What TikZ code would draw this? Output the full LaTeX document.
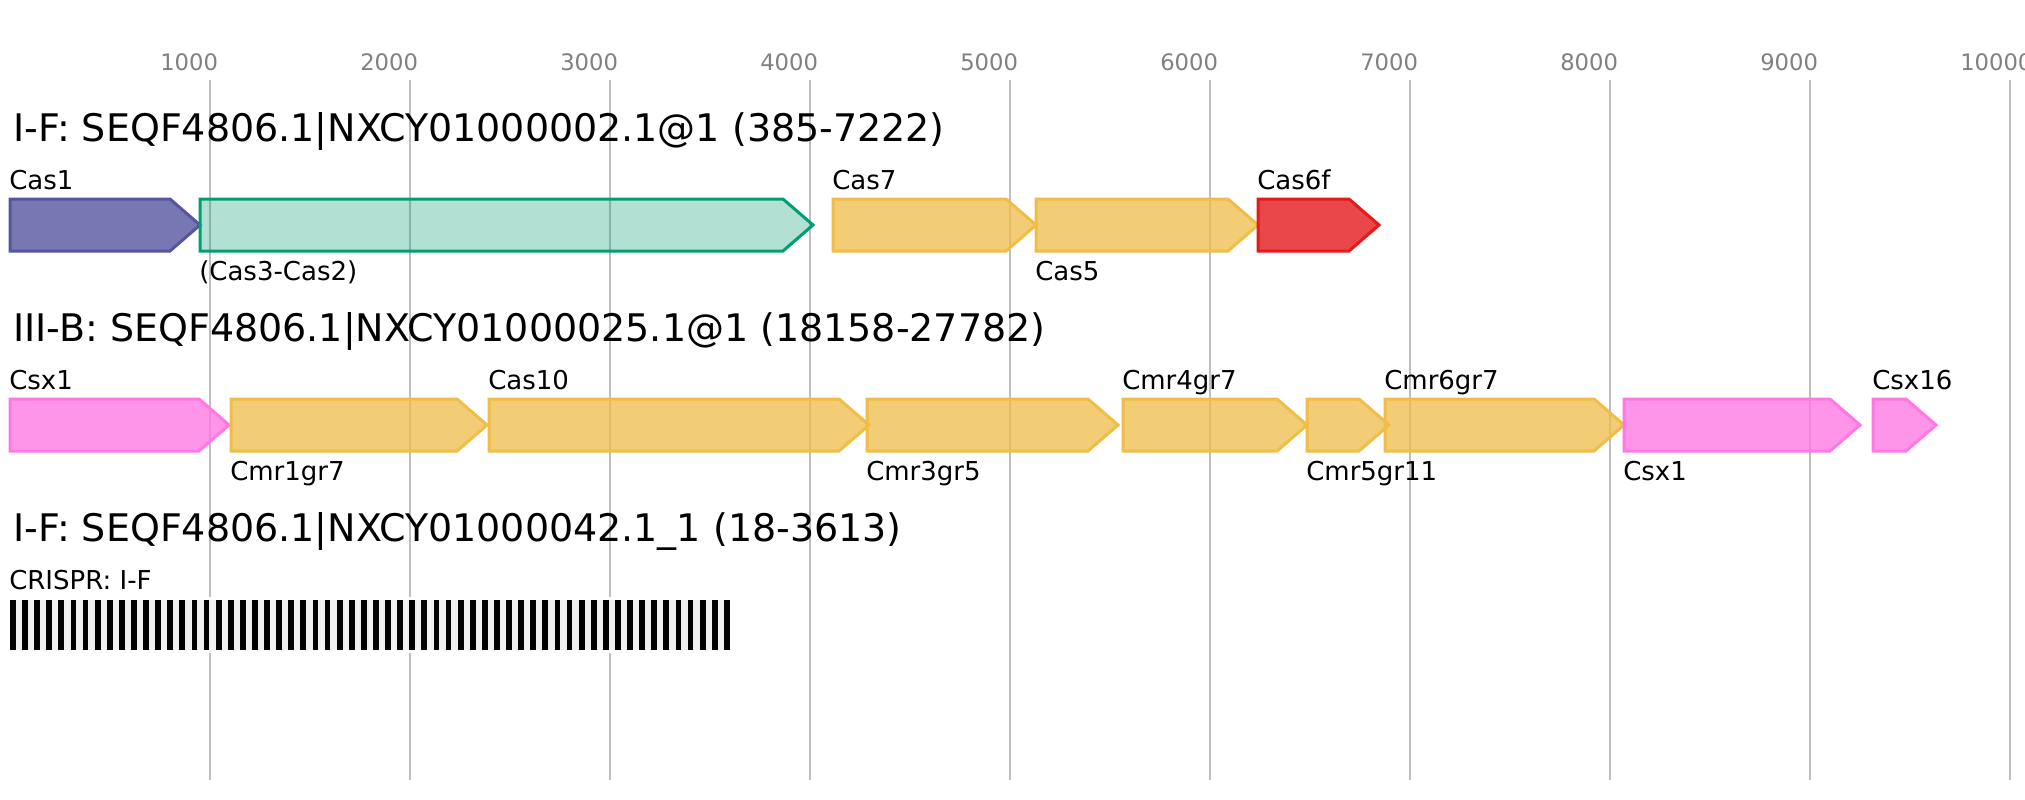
\documentclass[tikz,border=0pt]{standalone}
\usepackage{fontspec}
\setmainfont{DejaVu Sans}
\definecolor{gridc}{RGB}{190,190,190}
\definecolor{purp}{RGB}{85,85,160}
\definecolor{tealc}{RGB}{0,158,115}
\definecolor{yell}{RGB}{239,189,72}
\definecolor{redc}{RGB}{228,26,28}
\definecolor{pinkc}{RGB}{255,120,228}
\definecolor{spc}{RGB}{240,240,240}
\definecolor{axc}{RGB}{128,128,128}
\tikzset{
  genebase/.style={line width=2.25pt, line join=miter},
  gpurp/.style={genebase, draw=purp, fill=purp, fill opacity=0.8},
  gteal/.style={genebase, draw=tealc, fill=tealc, fill opacity=0.3},
  gyell/.style={genebase, draw=yell, fill=yell, fill opacity=0.75},
  gred/.style={genebase, draw=redc, fill=redc, fill opacity=0.8},
  gpink/.style={genebase, draw=pinkc, fill=pinkc, fill opacity=0.78},
  titletext/.style={anchor=base west, inner sep=0pt, font=\fontsize{28.5pt}{30pt}\selectfont},
  glabel/.style={anchor=base west, inner sep=0pt, font=\fontsize{19.5pt}{21pt}\selectfont},
  axlabel/.style={anchor=base west, inner sep=0pt, text=axc, font=\fontsize{17pt}{18pt}\selectfont},
  gridline/.style={draw=gridc, line width=1.5pt},
}
\newcommand\genearrow[4]{%
  \draw[#4] (#1,#3) -- ({#2-30},#3) -- (#2,{#3+26}) -- ({#2-30},{#3+52}) -- (#1,{#3+52}) -- cycle;}
\begin{document}
\begin{tikzpicture}[x=0.75pt,y=-0.75pt]
\useasboundingbox (0,0) rectangle (2025,800);
\fill[white] (0,0) rectangle (2025,800);
% grid and axis
\foreach \k in {1,...,10}{
  \pgfmathsetmacro\gx{10+200*\k}
  \draw[gridline] (\gx,80) -- (\gx,780);
  \node[axlabel] (ax\k) at (\gx-50,70) {\k000};
}
% titles
\node[titletext] (t1) at (13,141) {I-F: SEQF4806.1|NXCY01000002.1@1 (385-7222)};
\node[titletext] (t2) at (13,341) {III-B: SEQF4806.1|NXCY01000025.1@1 (18158-27782)};
\node[titletext] (t3) at (13,541) {I-F: SEQF4806.1|NXCY01000042.1\_1 (18-3613)};
% row 1
\genearrow{10}{200}{199}{gpurp}
\genearrow{200}{813}{199}{gteal}
\genearrow{833}{1036}{199}{gyell}
\genearrow{1036}{1258}{199}{gyell}
\genearrow{1258}{1379}{199}{gred}
\node[glabel] (l11) at (9,189) {Cas1};
\node[glabel] (l12) at (199,280) {(Cas3-Cas2)};
\node[glabel] (l13) at (832,189) {Cas7};
\node[glabel] (l14) at (1035,280) {Cas5};
\node[glabel] (l15) at (1257,189) {Cas6f};
% row 2
\genearrow{10}{229}{399}{gpink}
\genearrow{231}{487}{399}{gyell}
\genearrow{489}{869}{399}{gyell}
\genearrow{867}{1118}{399}{gyell}
\genearrow{1123}{1307}{399}{gyell}
\genearrow{1307}{1389}{399}{gyell}
\genearrow{1385}{1624}{399}{gyell}
\genearrow{1624}{1860}{399}{gpink}
\genearrow{1873}{1936}{399}{gpink}
\node[glabel] (l21) at (9,389) {Csx1};
\node[glabel] (l22) at (230,480) {Cmr1gr7};
\node[glabel] (l23) at (488,389) {Cas10};
\node[glabel] (l24) at (866,480) {Cmr3gr5};
\node[glabel] (l25) at (1122,389) {Cmr4gr7};
\node[glabel] (l26) at (1306,480) {Cmr5gr11};
\node[glabel] (l27) at (1384,389) {Cmr6gr7};
\node[glabel] (l28) at (1623,480) {Csx1};
\node[glabel] (l29) at (1872,389) {Csx16};
% row 3 CRISPR array
\node[glabel] (l31) at (9,589) {CRISPR: I-F};
\fill[white] (7,597) rectangle (732,653);
\fill[spc] (10,600) rectangle (729.5,650);
\foreach \i in {0,...,59}{
  \fill[black] ({10+12.1*\i},600) rectangle ({15.8+12.1*\i},650);
}
\end{tikzpicture}
\end{document}
